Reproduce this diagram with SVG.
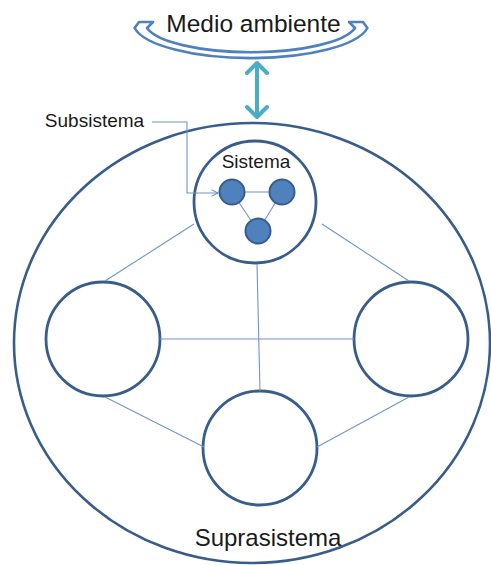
<svg xmlns="http://www.w3.org/2000/svg" width="491" height="565" viewBox="0 0 491 565">
  <defs>
    <style>
      .ring { fill: #ffffff; stroke: #385d8a; stroke-width: 2.8; }
      .big { fill: none; stroke: #385d8a; stroke-width: 2.6; }
      .link { fill: none; stroke: #6f95cc; stroke-width: 1.1; }
      .dot { fill: #4f81bd; stroke: #385d8a; stroke-width: 2; }
      .lbl { font-family: "Liberation Sans", Arial, sans-serif; fill: #1a1a1a; text-anchor: middle; }
      .env { fill: #ffffff; stroke: #4f81bd; stroke-width: 2.6; stroke-linejoin: round; }
      .flow { fill: none; stroke: #4bacc6; stroke-width: 4; stroke-linecap: round; stroke-linejoin: round; }
    </style>
    <marker id="open-arrow" viewBox="0 0 10 10" refX="9" refY="5" markerWidth="8" markerHeight="8" orient="auto" markerUnits="userSpaceOnUse">
      <path d="M1,1 L9,5 L1,9" fill="none" stroke="#4f81bd" stroke-width="1.2"/>
    </marker>
  </defs>

  <rect width="491" height="565" fill="#ffffff"/>

  <!-- environment: curved band with label -->
  <g id="medio-ambiente">
    <path class="env" d="M147,28 L153,22 L139,22 L134.6,28 A118 36 0 0 0 367.4,28 L363,22 L349,22 L355,28 A106 30 0 0 1 147,28 Z"/>
    <text class="lbl" x="253.5" y="32" font-size="24.5">Medio ambiente</text>
  </g>

  <!-- exchange between environment and suprasystem -->
  <g id="intercambio">
    <line class="flow" x1="257" y1="64" x2="257" y2="116"/>
    <polyline class="flow" points="247,73 257,63 267,73"/>
    <polyline class="flow" points="247,107 257,117 267,107"/>
  </g>

  <!-- suprasystem boundary -->
  <g id="suprasistema">
    <ellipse class="big" cx="252" cy="343" rx="238" ry="220"/>
    <text class="lbl" x="268" y="546" font-size="24">Suprasistema</text>
  </g>

  <!-- system boundary -->
  <g id="sistema">
    <circle class="ring" cx="255" cy="202" r="61"/>
    <text class="lbl" x="256" y="168" font-size="19">Sistema</text>
  </g>

  <!-- sibling systems -->
  <g id="sistema-izquierdo"><circle class="ring" cx="103" cy="339" r="57"/></g>
  <g id="sistema-derecho"><circle class="ring" cx="411" cy="339" r="57"/></g>
  <g id="sistema-inferior"><circle class="ring" cx="260" cy="448" r="57"/></g>

  <!-- connectors -->
  <g id="conectores">
    <line class="link" x1="160" y1="339" x2="354" y2="339"/>
    <line class="link" x1="257" y1="264" x2="260" y2="391"/>
    <line class="link" x1="105" y1="281" x2="194" y2="224"/>
    <line class="link" x1="322" y1="224" x2="409" y2="281"/>
    <line class="link" x1="105" y1="397" x2="204" y2="447"/>
    <line class="link" x1="409" y1="397" x2="317" y2="447"/>
    <line class="link" x1="232" y1="192" x2="282" y2="192"/>
    <line class="link" x1="232" y1="192" x2="258" y2="231"/>
    <line class="link" x1="282" y1="192" x2="258" y2="231"/>
    <polyline class="link" points="152,122 187,122 187,193 218,193" marker-end="url(#open-arrow)"/>
  </g>

  <!-- subsystems inside the system -->
  <g id="subsistema-1"><circle class="dot" cx="232" cy="192" r="12.5"/></g>
  <g id="subsistema-2"><circle class="dot" cx="282" cy="192" r="12.5"/></g>
  <g id="subsistema-3"><circle class="dot" cx="258" cy="231" r="12.5"/></g>

  <g id="subsistema-etiqueta">
    <text class="lbl" x="94.5" y="127" font-size="19">Subsistema</text>
  </g>
</svg>
